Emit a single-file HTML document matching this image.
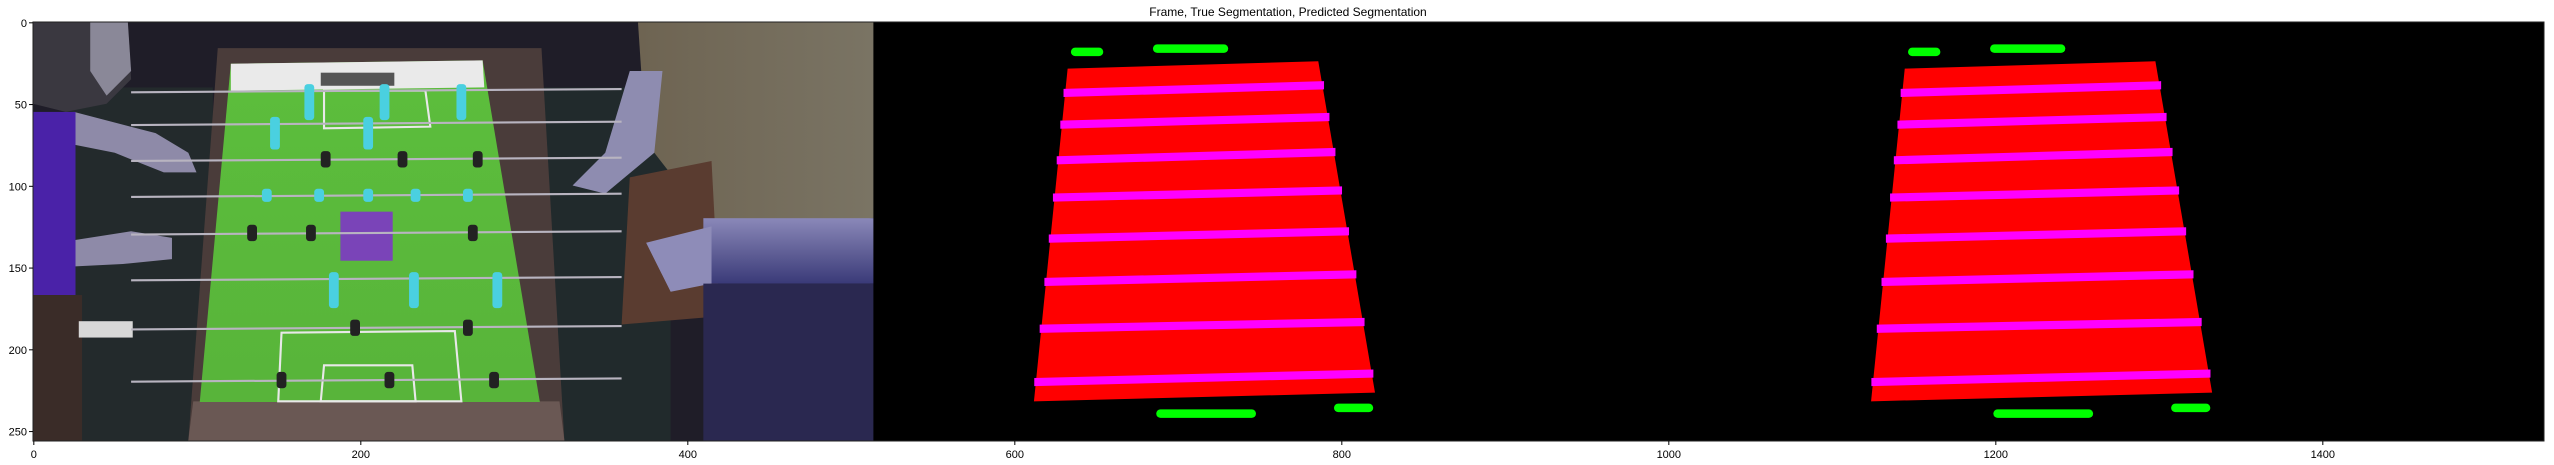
<!DOCTYPE html>
<html><head><meta charset="utf-8"><style>
html,body{margin:0;padding:0;background:#fff;}
svg{display:block;font-family:"Liberation Sans","DejaVu Sans",sans-serif;}
</style></head><body>
<svg id="fig" width="2554" height="465" viewBox="0 0 2554 465">
<text x="1288" y="16" font-size="12" text-anchor="middle" fill="#000">Frame, True Segmentation, Predicted Segmentation</text>
<defs>
<linearGradient id="field" x1="0" y1="0" x2="0" y2="1"><stop offset="0" stop-color="#5cbe3c"/><stop offset="1" stop-color="#58b43a"/></linearGradient>
<linearGradient id="shirtR" x1="0" y1="0" x2="1" y2="0"><stop offset="0" stop-color="#6e6452"/><stop offset="1" stop-color="#7a7464"/></linearGradient>
<linearGradient id="armR" x1="0" y1="0" x2="0" y2="1"><stop offset="0" stop-color="#8a88b8"/><stop offset="1" stop-color="#3a3a78"/></linearGradient>
</defs>
<g transform="translate(33,22) scale(1.635)">
  <rect x="0" y="0" width="1536" height="256" fill="#000"/>
  <g id="photo">
    <rect x="0" y="0" width="512" height="256" fill="#1f1d28"/>
    <rect x="20" y="40" width="90" height="216" fill="#232a2c"/>
    <rect x="300" y="40" width="90" height="216" fill="#212a2c"/>
    <path d="M0,0 L58,0 L60,35 L45,50 L20,55 L0,50 Z" fill="#3a3840"/>
    <path d="M35,0 L58,0 L60,30 L45,45 L35,30 Z" fill="#8a8898"/>
    <path d="M25,55 L75,68 L95,80 L100,92 L80,92 L50,80 L25,75 Z" fill="#8e8aa8"/>
    <path d="M15,135 L60,128 L85,132 L85,145 L55,148 L15,150 Z" fill="#8e8aa8"/>
    <rect x="0" y="55" width="26" height="112" fill="#4a22a8"/>
    <rect x="0" y="167" width="30" height="89" fill="#3a2c28"/>
    <rect x="28" y="183" width="33" height="10" fill="#d8d8d8"/>
    <path d="M113,16 L311,16 L325,256 L95,256 Z" fill="#4a3c3a"/>
    <path d="M98,232 L322,232 L325,256 L95,256 Z" fill="#6a5854"/>
    <path d="M121,25.5 L275,23.5 L310,232.4 L102,232.4 Z" fill="url(#field)"/>
    <path d="M121,25.5 L275,23.5 L276,40 L121,42 Z" fill="#eaeaea"/>
    <rect x="176" y="31" width="45" height="8" fill="#555"/>
    <path d="M178,42 L240,42 L243,64 L178,65 Z" fill="none" stroke="#e8e8e8" stroke-width="1.3"/>
    <path d="M152,190 L258,189 L262,232 L150,232 Z" fill="none" stroke="#e8e8e8" stroke-width="1.3"/>
    <path d="M178,210 L232,210 L234,232 L176,232 Z" fill="none" stroke="#e8e8e8" stroke-width="1.3"/>
    <rect x="188" y="116" width="32" height="30" fill="#7a44b8"/>
    <path d="M370,0 L514,0 L514,120 L415,125 L380,80 L372,30 Z" fill="url(#shirtR)"/>
    <path d="M365,30 L385,30 L380,80 L350,105 L330,100 L350,80 Z" fill="#8e8cb0"/>
    <path d="M365,95 L415,85 L420,180 L360,185 Z" fill="#5a3c30"/>
    <rect x="410" y="120" width="104" height="40" fill="url(#armR)"/>
    <path d="M375,135 L415,125 L415,160 L390,165 Z" fill="#8e8cb8"/>
    <rect x="410" y="160" width="104" height="96" fill="#2a2850"/>
    <g id="rods"></g>
  </g>
  <g id="trueSeg"></g>
  <g id="predSeg"></g>
</g>
<rect x="33" y="22" width="2511" height="419" fill="none" stroke="#222" stroke-width="1"/>
<g id="axes"></g>
</svg>
<script>
// segmentation geometry (data units, x relative to panel start)
const trapezoid = [[120.8,28.5],[274.1,24],[308.8,226.7],[100.2,232]];
const stripeLeftY = [43.4,62.8,84.6,107.4,132.5,159,187.6,220.2];
const stripeRightY = [38.7,58.1,79.5,103,128,154.3,183.5,215];
const blobX0 = [122.8,173,175,283.7];
const blobX1 = [142.6,219,236,307.7];
const blobY = [18.3,16.3,239.5,236];
// photo rods and players
const rodY = [42,62,84,106,129,157,187,219];
const rodCyan = [true,true,false,true,false,true,false,false];
const playerX = [[169,215,262],[148,205],[179,226,272],[143,175,205,234,266],[134,170,269],[184,233,284],[197,266],[152,218,282]];
const xTicks = [0,200,400,600,800,1000,1200,1400];
const yTicks = [0,50,100,150,200,250];
const NS='http://www.w3.org/2000/svg';
function mk(t,a,p){const e=document.createElementNS(NS,t);for(const k in a)e.setAttribute(k,a[k]);p.appendChild(e);return e;}
function edgeX(y,side){const [tl,tr,br,bl]=trapezoid;if(side===0){const t=(y-tl[1])/(bl[1]-tl[1]);return tl[0]+(bl[0]-tl[0])*t;}const t=(y-tr[1])/(br[1]-tr[1]);return tr[0]+(br[0]-tr[0])*t;}
function drawSeg(g,off,dy){
  const p=mk('polygon',{points:trapezoid.map(q=>(q[0]+off)+','+(q[1]+dy)).join(' '),fill:'#ff0000'},g);
  
  
  for(let i=0;i<stripeLeftY.length;i++){
    const ly=stripeLeftY[i]+dy, ry=stripeRightY[i]+dy;
    const lx=edgeX(stripeLeftY[i],0)+off-1, rx=edgeX(stripeRightY[i],1)+off+1;
    const s=mk('polygon',{points:`${lx},${ly-2.5} ${rx},${ry-2.5} ${rx},${ry+2.5} ${lx},${ly+2.5}`,fill:'#ff00ff'},g);
    
    
  }
  for(let i=0;i<blobX0.length;i++){
    const b=mk('rect',{x:blobX0[i]+off,y:blobY[i]-2.6+dy,width:blobX1[i]-blobX0[i],height:5.2,rx:2.6,fill:'#00ff00'},g);
    
    
  }
}
drawSeg(document.getElementById('trueSeg'),512,0);
drawSeg(document.getElementById('predSeg'),1024,0);
const rods=document.getElementById('rods');
rodY.forEach((y,i)=>{
  const r=mk('line',{x1:60,y1:y+1,x2:360,y2:y-1,stroke:'#b8b4c0','stroke-width':1.3},rods);
  
  
  playerX[i].forEach(px=>{
    const cy=rodCyan[i];
    const h=cy?(i===0||i===5?22:(i===1?20:8)):10;
    const pl=mk('rect',{x:px-3,y:y-(cy?4:5),width:6,height:h,rx:2,fill:(cy?'#4ad0e0':'#222')},rods);
    
    
  });
});
const ax=document.getElementById('axes');
const X0=33,Y0=22,S=1.635;
xTicks.forEach(v=>{
  const x=X0+(v+0.5)*S;
  const l=mk('line',{x1:x,y1:441,x2:x,y2:445,stroke:'#000','stroke-width':1},ax);
  
  
  const t=mk('text',{x:x,y:458,'font-size':11,'text-anchor':'middle',fill:'#000'},ax);
  t.textContent=v;
  
  
});
yTicks.forEach(v=>{
  const y=Y0+(v+0.5)*S;
  const l=mk('line',{x1:29,y1:y,x2:33,y2:y,stroke:'#000','stroke-width':1},ax);
  
  
  const t=mk('text',{x:27,y:y+4,'font-size':11,'text-anchor':'end',fill:'#000'},ax);
  t.textContent=v;
  
  
});
</script>
</body></html>
